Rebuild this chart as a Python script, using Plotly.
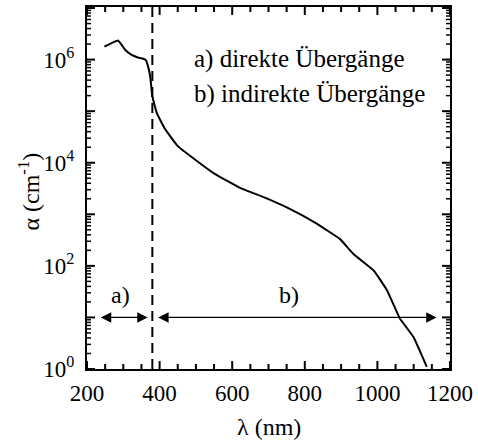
import math
import plotly.graph_objects as go

# Data
wavelength_nm = [248, 265, 285, 295, 305, 323, 340, 358, 363, 367, 374, 380, 392, 415, 450,
                 500, 553, 620, 690, 760, 828, 897, 934, 990, 1026, 1062, 1099, 1136]
alpha_cm = [1.78e6, 2.04e6, 2.34e6, 1.95e6, 1.55e6, 1.23e6, 1.10e6, 1.02e6, 9.5e5, 7.9e5, 4.8e5,
            1.95e5, 9.3e4, 4.5e4, 2.1e4, 1.12e4, 6.0e3, 3.3e3, 2.1e3, 1.26e3, 690, 330, 170,
            81, 34, 9.5, 4.2, 1.1]

boundary_nm = 380
region_a = [234, 367]
region_b = [392, 1163]
arrow_level = 10

x_range = [200, 1200]
y_range_log = [0, 7.02]
x_ticks = [200, 400, 600, 800, 1000, 1200]
x_minor = [v for v in range(250, 1200, 50) if v % 200 != 0]
y_ticks = [1, 10, 100, 1e3, 1e4, 1e5, 1e6, 1e7]
y_ticktext = ["10<sup>0</sup>", "", "10<sup>2</sup>", "", "10<sup>4</sup>", "", "10<sup>6</sup>", ""]
y_minor = [m * 10 ** k for k in range(0, 7) for m in range(2, 10)]

FONT = "Liberation Serif"
W, H = 478, 441
ML, MR, MT, MB = 87, 28, 5, 72
px_per_nm = (W - ML - MR) / (x_range[1] - x_range[0])
px_per_dec = (H - MT - MB) / (y_range_log[1] - y_range_log[0])

fig = go.Figure()
fig.add_trace(go.Scatter(x=wavelength_nm, y=alpha_cm, mode="lines",
                         line=dict(color="black", width=2, shape="spline", smoothing=0.3),
                         showlegend=False, hoverinfo="skip"))

# inward tick marks on all four edges, built from the tick arrays
def tick_trace(xt, yt, length, width):
    xs, ys = [], []
    dy = length / px_per_dec
    dx = length / px_per_nm
    lo, hi = y_range_log
    for v in xt:
        xs += [v, v, None, v, v, None]
        ys += [10 ** lo, 10 ** (lo + dy), None, 10 ** hi, 10 ** (hi - dy), None]
    for v in yt:
        xs += [x_range[0], x_range[0] + dx, None, x_range[1], x_range[1] - dx, None]
        ys += [v, v, None, v, v, None]
    fig.add_trace(go.Scatter(x=xs, y=ys, mode="lines", line=dict(color="black", width=width),
                             showlegend=False, hoverinfo="skip", connectgaps=False))

tick_trace(x_ticks, y_ticks, 8, 2)
tick_trace(x_minor, [], 5, 2)
tick_trace([], y_minor, 4, 1.5)

fig.add_shape(type="line", xref="x", yref="paper", x0=boundary_nm, x1=boundary_nm, y0=0, y1=1,
              line=dict(color="black", width=2, dash="10px,6px"))

ly = math.log10(arrow_level)
for (x0, x1) in (region_a, region_b):
    fig.add_annotation(x=x1, y=ly, ax=x0, ay=ly, xref="x", yref="y", axref="x", ayref="y",
                       text="", showarrow=True, arrowhead=2, arrowside="end+start",
                       arrowsize=1.6, arrowwidth=1.3, arrowcolor="black")

fig.add_annotation(x=293, y=1.43, xref="x", yref="y", text="a)", showarrow=False,
                   font=dict(family=FONT, size=24, color="black"))
fig.add_annotation(x=756, y=1.43, xref="x", yref="y", text="b)", showarrow=False,
                   font=dict(family=FONT, size=24, color="black"))
fig.add_annotation(x=489, y=6.02, xref="x", yref="y", text="a) direkte Übergänge", showarrow=False,
                   xanchor="left", font=dict(family=FONT, size=25, color="black"))
fig.add_annotation(x=489, y=5.33, xref="x", yref="y", text="b) indirekte Übergänge", showarrow=False,
                   xanchor="left", font=dict(family=FONT, size=25, color="black"))

# axis titles
fig.add_annotation(x=0.5, y=-0.16, xref="paper", yref="paper", text="λ (nm)", showarrow=False,
                   yanchor="middle", font=dict(family=FONT, size=24, color="black"))
fig.add_annotation(x=-0.16, y=0.49, xref="paper", yref="paper", text="α (cm<sup>-1</sup>)",
                   showarrow=False, textangle=-90, xanchor="center", yanchor="middle",
                   font=dict(family=FONT, size=24, color="black"))

fig.update_layout(
    width=W, height=H,
    margin=dict(l=ML, r=MR, t=MT, b=MB),
    paper_bgcolor="white", plot_bgcolor="white",
    font=dict(family=FONT, size=23, color="black"),
    xaxis=dict(range=x_range, tickvals=x_ticks, ticks="", showline=True, linewidth=2,
               linecolor="black", mirror=True, showgrid=False, zeroline=False,
               ticklabelstandoff=2, tickfont=dict(family=FONT, size=23)),
    yaxis=dict(type="log", range=y_range_log, tickvals=y_ticks, ticktext=y_ticktext, ticks="",
               showline=True, linewidth=2, linecolor="black", mirror=True, showgrid=False,
               zeroline=False, ticklabelstandoff=6, tickfont=dict(family=FONT, size=23)),
)

fig.write_html("out.html")
